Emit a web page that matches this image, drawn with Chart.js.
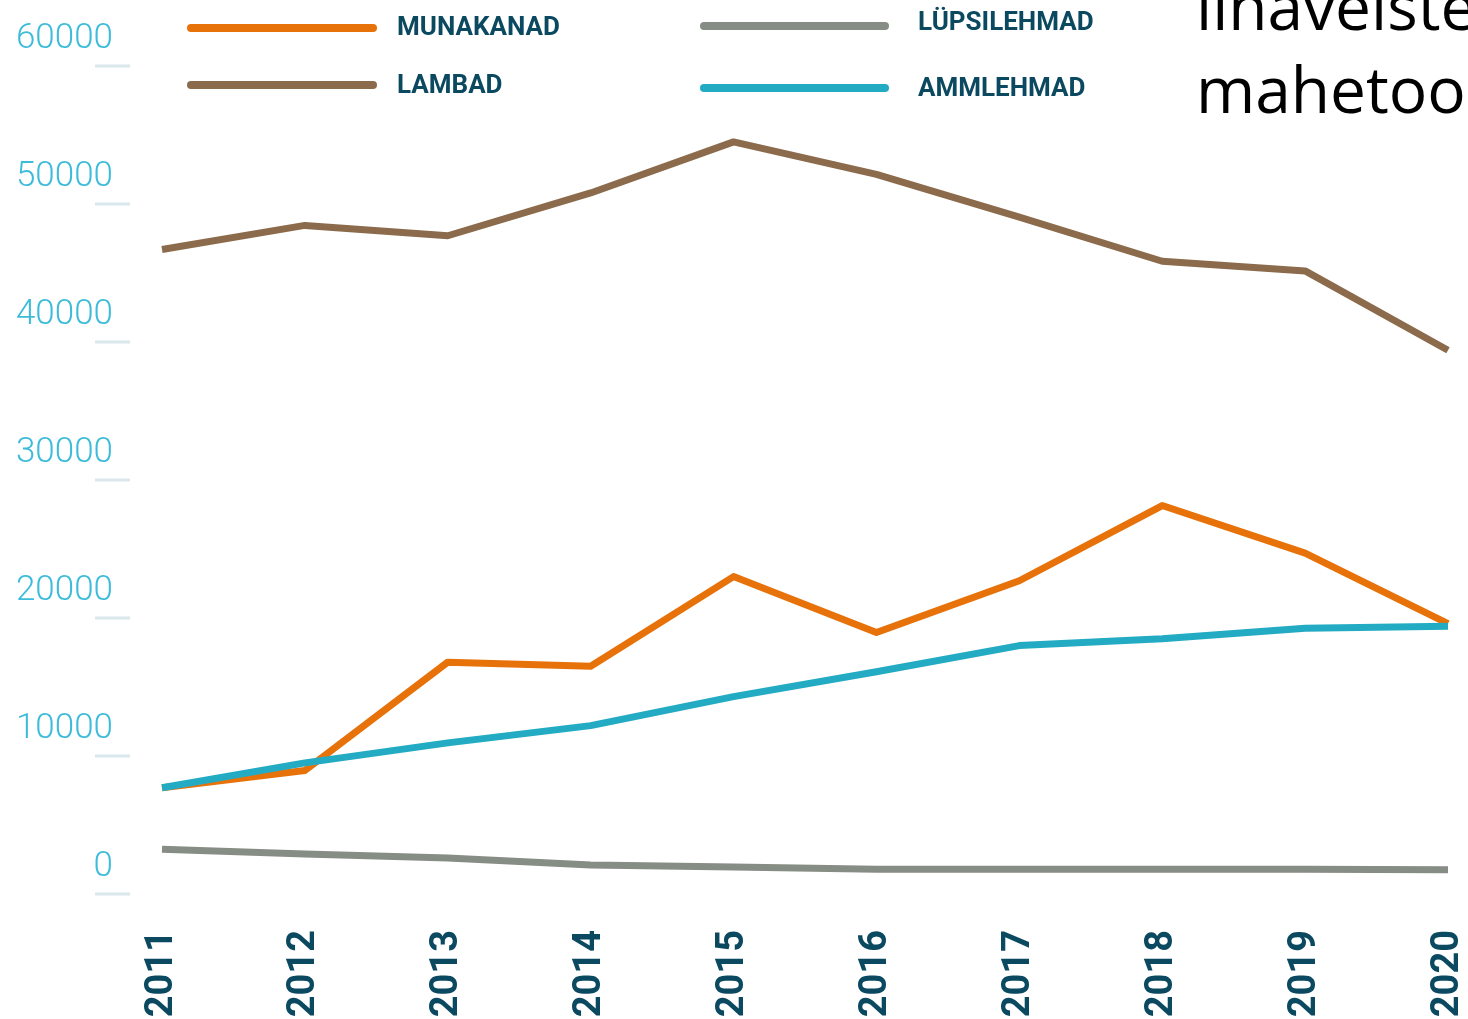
<!DOCTYPE html>
<html>
<head>
<meta charset="utf-8">
<script src="https://cdn.jsdelivr.net/npm/chart.js@4"></script>
<style>
  html, body { margin: 0; padding: 0; background: #fff; overflow: hidden; }
  #wrap { position: relative; width: 1468px; height: 1019px; }
</style>
</head>
<body>
<div id="wrap"><canvas id="chart"></canvas></div>
<script>
// =============================
// DATA
// =============================
const years = ['2011', '2012', '2013', '2014', '2015', '2016', '2017', '2018', '2019', '2020'];
const munakanad = [7700, 8950, 16800, 16500, 23000, 18950, 22700, 28150, 24700, 19600];
const lambad = [46700, 48450, 47700, 50800, 54500, 52150, 49050, 45850, 45150, 39400];
const lupsilehmad = [3250, 2900, 2600, 2100, 1950, 1800, 1800, 1800, 1800, 1750];
const ammlehmad = [7700, 9500, 10950, 12200, 14300, 16100, 18000, 18500, 19250, 19400];
const yTicks = [0, 10000, 20000, 30000, 40000, 50000, 60000];

const COLORS = {
    munakanad: '#e8720a',
    lambad: '#8b6b4b',
    lupsilehmad: '#868d84',
    ammlehmad: '#23abc3'
};
const NAVY = '#0b4961';

// =============================
// SMALL TICK MARKS NEXT TO Y LABELS
// =============================
const tickMarks = {
    id: 'tickMarks',
    beforeDatasetsDraw(chart) {
        const ctx = chart.ctx;
        const y = chart.scales.y;
        ctx.save();
        ctx.fillStyle = '#dae8ee';
        yTicks.forEach(v => {
            const py = y.getPixelForValue(v);
            ctx.fillRect(95, py - 1.5, 35, 3);
        });
        ctx.restore();
    }
};

// =============================
// LEGEND (2 x 2) + HEADING TEXT
// =============================
const legendItems = [
    { label: 'MUNAKANAD', color: COLORS.munakanad, x1: 191, x2: 373, ly: 28, tx: 397, ty: 28 },
    { label: 'LAMBAD', color: COLORS.lambad, x1: 191, x2: 373, ly: 85, tx: 397, ty: 86 },
    { label: 'LÜPSILEHMAD', color: COLORS.lupsilehmad, x1: 704, x2: 885, ly: 26, tx: 918, ty: 23 },
    { label: 'AMMLEHMAD', color: COLORS.ammlehmad, x1: 704, x2: 885, ly: 88, tx: 918, ty: 89 }
];

const customLegend = {
    id: 'customLegend',
    afterDraw(chart) {
        const ctx = chart.ctx;
        ctx.save();
        legendItems.forEach(it => {
            ctx.strokeStyle = it.color;
            ctx.lineWidth = 8;
            ctx.lineCap = 'round';
            ctx.beginPath();
            ctx.moveTo(it.x1, it.ly);
            ctx.lineTo(it.x2, it.ly);
            ctx.stroke();

            ctx.fillStyle = NAVY;
            ctx.font = 'bold 26px Roboto';
            ctx.textAlign = 'left';
            ctx.textBaseline = 'middle';
            ctx.fillText(it.label, it.tx, it.ty);
        });

        // heading text, cut by the page edge
        ctx.fillStyle = '#000';
        ctx.font = '64px "Open Sans"';
        ctx.textAlign = 'left';
        ctx.textBaseline = 'alphabetic';
        ctx.fillText('lihaveiste', 1196, 30);
        ctx.fillText('mahetoo', 1196, 113);
        ctx.restore();
    }
};

// =============================
// CHART
// =============================
function makeSet(label, data, color, order) {
    return {
        label: label,
        data: data,
        borderColor: color,
        backgroundColor: color,
        borderWidth: 7,
        pointRadius: 0,
        pointHoverRadius: 0,
        tension: 0,
        borderJoinStyle: 'round',
        fill: false,
        order: order
    };
}

new Chart(document.getElementById('chart'), {
    type: 'line',
    data: {
        labels: years,
        datasets: [
            makeSet('MUNAKANAD', munakanad, COLORS.munakanad, 1),
            makeSet('LAMBAD', lambad, COLORS.lambad, 2),
            makeSet('LÜPSILEHMAD', lupsilehmad, COLORS.lupsilehmad, 3),
            makeSet('AMMLEHMAD', ammlehmad, COLORS.ammlehmad, 0)
        ]
    },
    options: {
        responsive: true,
        maintainAspectRatio: false,
        animation: false,
        layout: { padding: { top: 66, right: 20, left: 0, bottom: 0 } },
        plugins: {
            legend: { display: false },
            tooltip: { enabled: false }
        },
        scales: {
            x: {
                offset: false,
                grid: { display: false, drawTicks: false },
                border: { display: false },
                ticks: {
                    autoSkip: false,
                    minRotation: 90,
                    maxRotation: 90,
                    padding: 36,
                    color: NAVY,
                    font: { family: 'Roboto', size: 38, weight: 'bold', lineHeight: 1 }
                },
                afterFit(s) {
                    s.height = 125;
                    s.paddingLeft = 0;
                    s.paddingRight = 0;
                }
            },
            y: {
                min: 0,
                max: 60000,
                grid: { display: false, drawTicks: false },
                border: { display: false },
                ticks: {
                    stepSize: 10000,
                    padding: 49,
                    labelOffset: -27,
                    color: '#3dbcda',
                    font: { family: 'Roboto', size: 35, weight: '300' },
                    callback: v => String(v)
                },
                afterFit(s) {
                    s.width = 162;
                    s.paddingTop = 0;
                    s.paddingBottom = 0;
                }
            }
        }
    },
    plugins: [tickMarks, customLegend]
});
</script>
</body>
</html>
